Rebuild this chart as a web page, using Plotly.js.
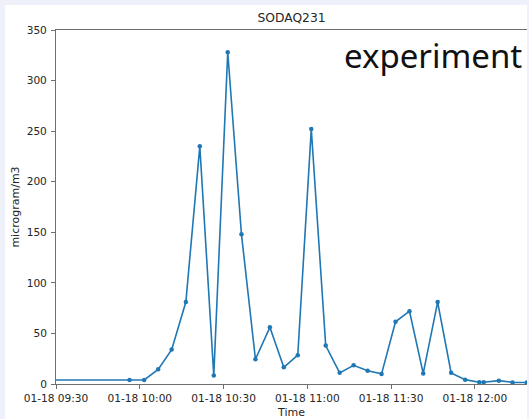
<!DOCTYPE html>
<html>
<head>
<meta charset="utf-8">
<script src="https://cdn.plot.ly/plotly-3.0.1.min.js"></script>
<style>
  html, body { margin: 0; padding: 0; background: #eef1f9; overflow: hidden; }
  #chart { position: absolute; left: 5px; top: 5px; width: 522px; height: 414px; }
</style>
</head>
<body>
<div id="chart"></div>
<script>
// SODAQ231 particulate readings, 18 January
const times = [
  '2021-01-18 09:25:00', '2021-01-18 09:56:20', '2021-01-18 10:01:35', '2021-01-18 10:06:35',
  '2021-01-18 10:11:25', '2021-01-18 10:16:30', '2021-01-18 10:21:30', '2021-01-18 10:26:30',
  '2021-01-18 10:31:30', '2021-01-18 10:36:25', '2021-01-18 10:41:25', '2021-01-18 10:46:35',
  '2021-01-18 10:51:35', '2021-01-18 10:56:35', '2021-01-18 11:01:25', '2021-01-18 11:06:35',
  '2021-01-18 11:11:35', '2021-01-18 11:16:35', '2021-01-18 11:21:35', '2021-01-18 11:26:35',
  '2021-01-18 11:31:35', '2021-01-18 11:36:35', '2021-01-18 11:41:30', '2021-01-18 11:46:40',
  '2021-01-18 11:51:30', '2021-01-18 11:56:30', '2021-01-18 12:01:35', '2021-01-18 12:03:10',
  '2021-01-18 12:08:35', '2021-01-18 12:13:30', '2021-01-18 12:18:35'
];
const pm = [
  4, 4, 4, 14.5,
  34, 81, 235, 8.5,
  328, 148, 24.5, 56,
  16.5, 28.5, 252, 38,
  11, 18.5, 13, 10,
  61.5, 72, 10.5, 81,
  11, 4.3, 1.8, 1.8,
  3.3, 1.6, 1.5
];
const yTicks = [0, 50, 100, 150, 200, 250, 300, 350];

const axisColor = '#6f6f6f';
const tickFont = { family: 'DejaVu Sans', size: 10.6, color: '#262626' };

const trace = {
  x: times,
  y: pm,
  type: 'scatter',
  mode: 'lines+markers',
  line: { color: '#1f77b4', width: 1.6 },
  marker: { color: '#1f77b4', size: 4.5 },
  cliponaxis: true,
  hoverinfo: 'x+y'
};

const layout = {
  width: 522,
  height: 414,
  margin: { l: 51, r: 0, t: 25, b: 35 },
  paper_bgcolor: '#ffffff',
  plot_bgcolor: '#ffffff',
  showlegend: false,
  title: {
    text: 'SODAQ231',
    font: { family: 'DejaVu Sans', size: 12.3, color: '#262626' },
    xref: 'paper', x: 0.5, xanchor: 'center',
    yref: 'container', y: 1 - 13 / 414, yanchor: 'middle'
  },
  xaxis: {
    type: 'date',
    range: ['2021-01-18 09:30:00', '2021-01-18 12:18:40'],
    tick0: '2021-01-18 09:30:00',
    dtick: 1800000,
    tickformat: '%m-%d %H:%M',
    showgrid: false,
    zeroline: false,
    showline: true,
    mirror: true,
    linecolor: axisColor,
    linewidth: 1,
    ticks: 'outside',
    ticklen: 4,
    tickcolor: axisColor,
    tickwidth: 1,
    tickfont: tickFont,
    title: { text: 'Time', font: { family: 'DejaVu Sans', size: 11, color: '#262626' }, standoff: 6 }
  },
  yaxis: {
    range: [0, 350],
    tickvals: yTicks,
    ticktext: yTicks.map(String),
    showgrid: false,
    zeroline: false,
    showline: true,
    linecolor: axisColor,
    linewidth: 1,
    ticks: 'outside',
    ticklen: 4,
    tickcolor: axisColor,
    tickwidth: 1,
    tickfont: tickFont,
    ticklabelstandoff: 2,
    title: { text: 'microgram/m3', font: { family: 'DejaVu Sans', size: 11, color: '#262626' }, standoff: 4 }
  },
  annotations: [{
    text: 'experiment',
    xref: 'paper', yref: 'paper',
    x: 1, y: 0.927,
    xanchor: 'right', yanchor: 'middle',
    xshift: -3,
    showarrow: false,
    font: { family: 'Noto Sans', size: 33, color: '#111111' }
  }]
};

Plotly.newPlot('chart', [trace], layout, { displayModeBar: false, staticPlot: true });
</script>
</body>
</html>
